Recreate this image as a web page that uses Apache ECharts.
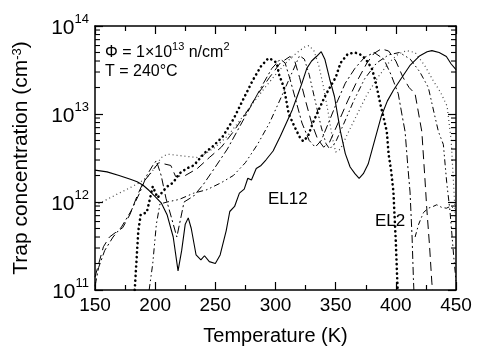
<!DOCTYPE html>
<html><head><meta charset="utf-8">
<script src="https://cdn.jsdelivr.net/npm/echarts@6/dist/echarts.min.js"></script>
<style>html,body{margin:0;padding:0;background:#fff}#c{width:477px;height:351px}</style>
</head><body><div id="c"></div>
<script>
// Temperature range and tick values
const xMin = 150, xMax = 450, xStep = 50;
const yMin = 1e11, yMax = 1e14;
const minorY = [2e11,3e11,4e11,5e11,6e11,7e11,8e11,9e11,
                2e12,3e12,4e12,5e12,6e12,7e12,8e12,9e12,
                2e13,3e13,4e13,5e13,6e13,7e13,8e13,9e13];

// Series: [temperature (K), trap concentration (cm^-3)]
const bigDots = [[183,1.0e11],[186,4.7e11],[188,7.2e11],[193,7.6e11],[198,1.5e12],[202,1.12e12],[206,1.3e12],[210,1.5e12],[215,1.66e12],[220,2.1e12],[226,2.4e12],[232,2.6e12],[241,3.6e12],[248,4.3e12],[256,5.5e12],[265,8.7e12],[273,1.45e13],[281,2.4e13],[288,3.5e13],[294,4.3e13],[298,4.1e13],[301,3.8e13],[303,2.8e13],[307,2.0e13],[311,1.0e13],[316,7.1e12],[320,5.5e12],[323,4.9e12],[327,5.6e12],[331,7.9e12],[336,1.12e13],[341,1.58e13],[346,2.1e13],[350,2.6e13],[354,3.8e13],[360,4.8e13],[366,5.0e13],[371,4.7e13],[375,4.2e13],[380,3.3e13],[383,2.4e13],[387,1.32e13],[390,8.9e12],[392.5,6.3e12],[394,3.5e12],[396,2.3e12],[398,1.3e12],[400,3.5e11],[401.5,1.0e11]];
const dashDot = [[150,1.1e11],[153,1.8e11],[158,2.8e11],[165,4.0e11],[172,5.2e11],[180,7.9e11],[187,1.26e12],[193,2.0e12],[198,2.6e12],[201,2.95e12],[205,2.0e12],[209,1.1e12],[214,6.3e11],[218,4.0e11],[221,6.3e11],[224,1.0e12],[232,1.17e12],[240,1.58e12],[250,2.5e12],[260,4.0e12],[270,7.1e12],[280,1.26e13],[290,2.24e13],[297,3.3e13],[304,4.2e13],[308,3.8e13],[312,2.5e13],[317,1.41e13],[322,7.9e12],[328,5.0e12],[333,4.2e12],[338,5.0e12],[344,7.9e12],[350,1.26e13],[358,2.24e13],[366,3.3e13],[374,4.4e13],[382,5.0e13],[390,4.2e13],[396,2.8e13],[402,1.7e13],[405,1.0e13],[407.7,6.3e12],[410,2.5e12],[411.8,1.3e12],[413.5,4.0e11],[414.6,1.35e11],[415,1.0e11]];
const dashed = [[150,1.4e11],[157,3.1e11],[162,4.0e11],[168,4.6e11],[173,5.1e11],[179,7.2e11],[185,1.17e12],[190,1.66e12],[198,2.3e12],[203,2.8e12],[208,2.7e12],[213,2.6e12],[217,1.95e12],[225,2.0e12],[235,2.4e12],[245,3.2e12],[255,4.2e12],[265,6.3e12],[275,1.0e13],[285,1.66e13],[295,2.6e13],[304,3.8e13],[312,4.5e13],[316,4.0e13],[320,2.6e13],[325,1.41e13],[330,7.9e12],[335,5.2e12],[340,4.2e12],[345,4.8e12],[352,7.9e12],[360,1.41e13],[368,2.4e13],[376,3.8e13],[382,4.9e13],[388,5.5e13],[394,5.2e13],[400,4.0e13],[406,2.6e13],[411,2.0e13],[416,1.7e13],[421.6,6.3e12],[424,2.0e12],[425.7,8.5e11],[428,3.2e11],[429.9,1.23e11],[430.5,1.0e11]];
const dashDotDot = [[195,1.0e11],[198,2.0e11],[201,5.6e11],[204,9.5e11],[210,1.0e12],[220,1.07e12],[232,1.26e12],[243,1.38e12],[255,1.66e12],[265,2.0e12],[275,2.8e12],[285,4.5e12],[295,7.9e12],[305,1.58e13],[313,2.8e13],[320,4.6e13],[324,4.2e13],[328,2.8e13],[333,1.41e13],[338,7.1e12],[342,4.6e12],[345,4.0e12],[350,4.8e12],[357,7.9e12],[365,1.41e13],[374,2.5e13],[384,3.8e13],[394,4.7e13],[403,5.0e13],[412,4.2e13],[420,3.0e13],[427,2.0e13],[432,1.0e13],[435.4,6.3e12],[439.5,4.5e12],[442.3,1.66e12],[445,7.9e11],[448,2.5e11],[450,1.26e11]];
const smallDots = [[150,9.1e11],[160,1.07e12],[170,1.26e12],[176,1.38e12],[187,1.66e12],[195,2.0e12],[200,2.5e12],[205,3.2e12],[210,3.5e12],[218,3.4e12],[226,3.3e12],[235,3.2e12],[242,3.55e12],[250,4.2e12],[260,5.6e12],[270,8.3e12],[280,1.26e13],[290,1.9e13],[300,2.8e13],[310,4.0e13],[318,5.0e13],[324,5.75e13],[328,6.0e13],[332,5.2e13],[336,3.55e13],[340,2.0e13],[344,1.0e13],[347,5.6e12],[350,3.7e12],[354,4.0e12],[360,6.0e12],[368,1.0e13],[376,1.66e13],[385,2.6e13],[394,3.8e13],[402,4.8e13],[409,5.25e13],[416,5.0e13],[424,3.55e13],[431,2.4e13],[437,1.78e13],[442.6,1.23e13],[446,5.0e12],[448,1.58e12],[450,5.0e11]];
const solid = [[150,2.3e12],[160,2.2e12],[170,2.0e12],[180,1.8e12],[185,1.7e12],[190,1.55e12],[195,1.35e12],[200,1.15e12],[205,9.8e11],[210,7.1e11],[215,4.0e11],[219,1.65e11],[222,2.8e11],[225,5.6e11],[227.5,6.6e11],[230,5.0e11],[234,2.5e11],[238,2.2e11],[241,2.45e11],[245,2.1e11],[250,2.0e11],[254,2.5e11],[259,4.7e11],[262,7.8e11],[266,8.9e11],[270,1.26e12],[274,1.4e12],[277,1.86e12],[280,1.78e12],[284,2.4e12],[288,2.6e12],[292,3.0e12],[298,3.8e12],[304,5.6e12],[309,7.9e12],[314,1.12e13],[318,1.58e13],[322,2.24e13],[326,3.3e13],[330,4.0e13],[334,4.5e13],[338,5.1e13],[341,4.2e13],[345,2.5e13],[349,1.58e13],[354,6.3e12],[358,3.55e12],[362,2.5e12],[366,2.1e12],[369.5,1.86e12],[373,2.1e12],[377,2.7e12],[382,4.8e12],[388,9.5e12],[393,1.41e13],[398,1.86e13],[405,2.6e13],[412,3.6e13],[420,4.6e13],[426,5.1e13],[430,5.25e13],[436,5.0e13],[442,4.5e13],[446,3.7e13],[450,3.2e13]];
const el2Tail = [[416,4.0e11],[419,5.6e11],[423,7.6e11],[427,8.5e11],[431,8.9e11],[434,9.3e11],[438,8.7e11],[442,8.5e11],[446,9.0e11],[450,8.0e11]];

const FONT = '"Liberation Sans", Arial, Helvetica, sans-serif';
const chart = echarts.init(document.getElementById('c'), null, {renderer:'canvas'});

function ln(name, data, style){
  return {type:'line', name, data, symbol:'none', showSymbol:false, smooth:false,
          lineStyle:Object.assign({color:'#000', width:1}, style), z:3, silent:true};
}
const axisLineStyle = {color:'#000', width:1.5};
const tickStyle = {color:'#000', width:1.2};

function xAx(pos, show){
  return {type:'value', position:pos, min:xMin, max:xMax, interval:xStep,
    axisLine:{show:true, onZero:false, lineStyle:axisLineStyle},
    axisTick:{show:true, inside:true, length:8, lineStyle:tickStyle},
    minorTick:{show:true, splitNumber:2, length:5, lineStyle:tickStyle},
    splitLine:{show:false}, minorSplitLine:{show:false},
    axisLabel:{show:show, color:'#000', fontSize:19, fontFamily:FONT, margin:6},
    name: show ? 'Temperature (K)' : '', nameLocation:'middle', nameGap:36,
    nameTextStyle:{color:'#000', fontSize:20, fontFamily:FONT}};
}
function yAx(pos, show){
  return {type:'log', logBase:10, position:pos, min:yMin, max:yMax,
    axisLine:{show:true, onZero:false, lineStyle:axisLineStyle},
    axisTick:{show:true, inside:true, length:8, lineStyle:tickStyle},
    splitLine:{show:false},
    axisLabel:{show:show, margin:6, formatter:v => '{b|10}{s|' + Math.round(Math.log10(v)) + '}',
      rich:{b:{fontSize:21, fontFamily:FONT, color:'#000', verticalAlign:'top', padding:[5,0,0,0]},
            s:{fontSize:13, fontFamily:FONT, color:'#000', verticalAlign:'top'}}},
    name: show ? '{a|Trap concentration (cm}{s|-3}{a|)}' : '', nameLocation:'middle', nameGap:63, nameRotate:90,
    nameTextStyle:{rich:{a:{fontSize:21, fontFamily:FONT, color:'#000', verticalAlign:'bottom'},
                         s:{fontSize:13, fontFamily:FONT, color:'#000', verticalAlign:'top', padding:[0,0,0,0]}}}};
}

const option = {
  animation:false,
  backgroundColor:'#fff',
  grid:{left:95, right:21, top:26, bottom:49},
  xAxis:[xAx('bottom', true), xAx('top', false)],
  yAxis:[yAx('left', true), yAx('right', false)],
  series:[
    ln('smallDots', smallDots, {color:'#444', width:1.2, type:[1,3]}),
    ln('dashDotDot', dashDotDot, {width:1, type:[6,3,1.5,3,1.5,3]}),
    ln('dashed', dashed, {width:1, type:[9,5]}),
    ln('dashDot', dashDot, {width:1, type:[8,3,2,3]}),
    ln('el2Tail', el2Tail, {width:1, type:[5,3,1.5,3]}),
    ln('bigDots', bigDots, {width:2.6, type:[0.1,4.6], cap:'round'}),
    ln('solid', solid, {width:1.1}),
    {type:'custom', name:'minorY', data:minorY.map(v => [xMin, v]), silent:true, clip:false, z:4,
     renderItem:(params, api) => {
       const v = api.value(1);
       const l = api.coord([xMin, v]), r = api.coord([xMax, v]);
       return {type:'group', children:[
         {type:'line', shape:{x1:l[0], y1:l[1], x2:l[0]+5, y2:l[1]}, style:{stroke:'#000', lineWidth:1.1}},
         {type:'line', shape:{x1:r[0]-5, y1:r[1], x2:r[0], y2:r[1]}, style:{stroke:'#000', lineWidth:1.1}}]};
     }}
  ],
  graphic:[
    {type:'text', left:105, top:41, style:{text:'{a|Φ = 1×10}{s|13}{a| n/cm}{s|2}',
      rich:{a:{fontSize:16, fontFamily:FONT, fill:'#000', verticalAlign:'bottom', padding:[4,0,0,0]},
            s:{fontSize:11, fontFamily:FONT, fill:'#000', verticalAlign:'top'}}}},
    {type:'text', left:105, top:64, style:{text:'T = 240°C', fontSize:16, fontFamily:FONT, fill:'#000'}},
    {type:'text', left:268, top:191, style:{text:'EL12', fontSize:17, fontFamily:FONT, fill:'#000'}},
    {type:'text', left:375, top:213, style:{text:'EL2', fontSize:17, fontFamily:FONT, fill:'#000'}}
  ]
};
chart.setOption(option);
</script></body></html>
